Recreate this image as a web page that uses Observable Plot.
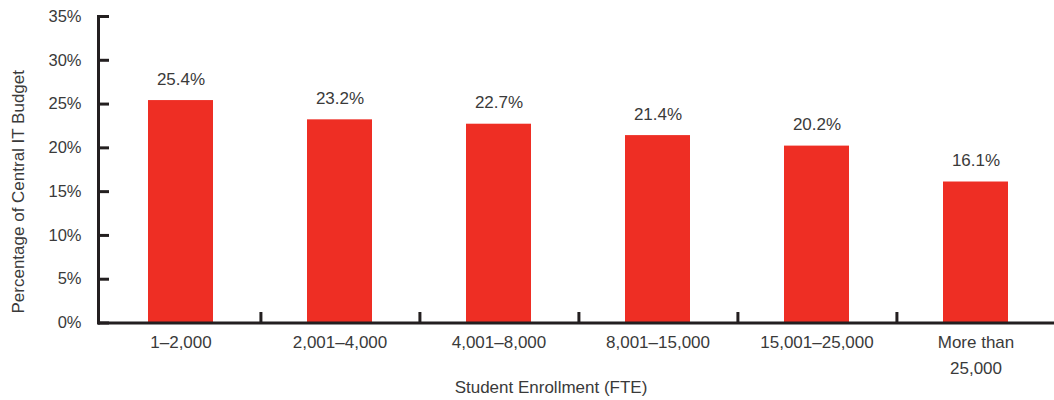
<!DOCTYPE html>
<html><head><meta charset="utf-8">
<script src="https://cdn.jsdelivr.net/npm/d3@7"></script>
<script src="https://cdn.jsdelivr.net/npm/@observablehq/plot@0.6"></script>
<style>body{margin:0;background:#fff}svg{font-family:"Liberation Sans",Arial,sans-serif}</style>
</head><body><div id="chart"></div>
<script>
const categories = ["1–2,000","2,001–4,000","4,001–8,000","8,001–15,000","15,001–25,000","More than 25,000"];
const values = [25.4, 23.2, 22.7, 21.4, 20.2, 16.1];
const yTicks = [0,5,10,15,20,25,30,35];
const yLabel = "Percentage of Central IT Budget";
const xLabel = "Student Enrollment (FTE)";

const data = categories.map((c,i)=>({cat:c, v:values[i]}));
const ink = "#231f20", txt = "#3a3a3a", red = "#ee2e24";
const W = 1054, H = 400, mL = 98, mR = -3, mT = 16, mB = 77.5;
const step = (W - mL - mR) / categories.length;

const chart = Plot.plot({
  width: W, height: H,
  marginLeft: mL, marginRight: mR, marginTop: mT, marginBottom: mB,
  style: {fontFamily: '"Liberation Sans", Arial, sans-serif', fontSize: "17px", color: txt, background: "#fff", overflow: "visible"},
  x: {domain: categories, paddingInner: 0.592, paddingOuter: 0.296, axis: null},
  y: {domain: [0,35], axis: null},
  marks: [
    Plot.barY(data, {x: "cat", y: "v", fill: red}),
    Plot.text(data, {x: "cat", y: "v", text: d => d.v.toFixed(1) + "%", dy: -16, lineAnchor: "bottom", fill: txt, fontSize: 17}),
    Plot.axisY(yTicks, {tickSize: -11, strokeWidth: 3, stroke: ink, tickFormat: () => "", label: null}),
    Plot.axisY(yTicks, {tickSize: 0, tickPadding: 17, tickFormat: d => d + "%", fill: txt, fontSize: 16.5, label: null}),
    Plot.axisX({tickSize: 0, tickPadding: 7, fill: txt, fontSize: 17, lineHeight: 1.5, label: null,
      tickFormat: d => d.replace("More than ", "More than\n")}),
    Plot.ruleX(categories.slice(0, -1), {x: d => d, y1: 0, y2: 1.2, dx: step/2, stroke: ink, strokeWidth: 3}),
    Plot.ruleY([0], {stroke: ink, strokeWidth: 3, insetRight: 3}),
    Plot.frame({anchor: "left", stroke: ink, strokeWidth: 3}),
    Plot.text([yLabel], {text: d => d, frameAnchor: "left", textAnchor: "middle", lineAnchor: "middle", rotate: -90, dx: -80, dy: 22, fill: txt, fontSize: 17}),
    Plot.text([xLabel], {text: d => d, frameAnchor: "bottom", textAnchor: "middle", lineAnchor: "middle", dx: -27, dy: 65, fill: txt, fontSize: 17})
  ]
});
document.getElementById("chart").appendChild(chart);
</script></body></html>
